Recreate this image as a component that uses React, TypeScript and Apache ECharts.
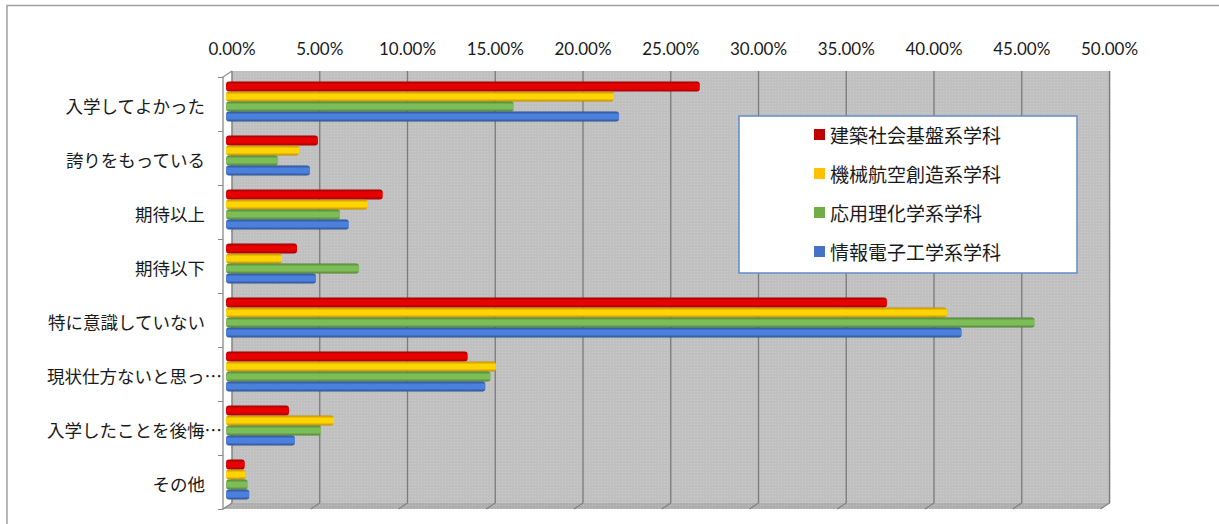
import React, { useEffect, useRef } from "react";
import * as echarts from "echarts";

const categories = [
  "入学してよかった",
  "誇りをもっている",
  "期待以上",
  "期待以下",
  "特に意識していない",
  "現状仕方ないと思っ…",
  "入学したことを後悔…",
  "その他",
];
const civil = [27.0, 5.24, 8.93, 4.05, 37.66, 13.77, 3.59, 1.07];
const mech = [22.1, 4.16, 8.07, 3.19, 41.08, 15.38, 6.15, 1.1];
const chem = [16.4, 2.96, 6.5, 7.58, 46.08, 15.08, 5.41, 1.24];
const info = [22.4, 4.79, 7.0, 5.13, 41.92, 14.78, 3.93, 1.33];
const seriesNames = ["建築社会基盤系学科", "機械航空創造系学科", "応用理化学系学科", "情報電子工学系学科"];
const seriesColors = ["#c00000", "#ffc000", "#70ad47", "#4472c4"];
const tickValues = [0, 5, 10, 15, 20, 25, 30, 35, 40, 45, 50];

const gradient = (edge: string, mid: string) => ({
  type: "linear",
  x: 0,
  y: 0,
  x2: 0,
  y2: 1,
  colorStops: [
    { offset: 0, color: edge },
    { offset: 0.3, color: mid },
    { offset: 0.7, color: mid },
    { offset: 1, color: edge },
  ],
});
const barFills = [
  gradient("#a00000", "#e60000"),
  gradient("#c08c00", "#ffd400"),
  gradient("#4f8434", "#7dbd57"),
  gradient("#2c5090", "#4b80dc"),
];

const CJK = '"Noto Sans CJK JP", "Noto Sans", sans-serif';
const plotW = 877.5;
const plotH = 432;

function dither(base: string, light: string) {
  const c = document.createElement("canvas");
  c.width = 3;
  c.height = 3;
  const g = c.getContext("2d")!;
  g.fillStyle = base;
  g.fillRect(0, 0, 3, 3);
  g.fillStyle = light;
  g.fillRect(1, 1, 1, 1);
  return { image: c, repeat: "repeat" };
}

export default function App() {
  const ref = useRef<HTMLDivElement>(null);
  useEffect(() => {
    document.body.style.margin = "0";
    const chart = echarts.init(ref.current!, undefined, { renderer: "svg" });
    const values = [civil, mech, chem, info];
    const depthX = 9;
    const depthY = 6;
    const wallFill = dither("#c0c0c0", "#cdcdcd");
    const floorFill = dither("#aeaeae", "#c2c2c2");
    chart.setOption({
      animation: false,
      backgroundColor: "#ffffff",
      graphic: [
        {
          type: "polyline",
          shape: { points: [[7, 524], [7, 5.5], [1219, 5.5]] },
          style: { stroke: "#a0a0a0", lineWidth: 1.5, fill: "none" },
          silent: true,
        },
      ],
      grid: [
        { left: 232, top: 71, width: plotW, height: plotH, show: true, backgroundColor: "#c1c1c1", borderWidth: 0 },
        { left: 223, top: 77, width: plotW, height: plotH },
        { left: 226, top: 74.5, width: plotW, height: plotH },
      ],
      xAxis: [
        {
          gridIndex: 0,
          type: "value",
          position: "top",
          min: 0,
          max: 50,
          interval: 5,
          axisLine: { show: true, lineStyle: { color: "#9a9a9a", width: 1.5 } },
          axisTick: { show: true, length: 5, lineStyle: { color: "#8a8a8a" } },
          axisLabel: {
            show: true,
            margin: 14,
            fontFamily: "Lato, sans-serif",
            fontSize: 17,
            color: "#1a1a1a",
            formatter: (v: number) => v.toFixed(2) + "%",
          },
          splitLine: { show: true, lineStyle: { color: "#7a7a7a", width: 1.3 } },
        },
        { gridIndex: 1, type: "value", min: 0, max: 50, interval: 5, show: false },
        { gridIndex: 2, type: "value", min: 0, max: 50, interval: 5, show: false },
      ],
      yAxis: [
        { gridIndex: 0, type: "value", min: 0, max: 1, show: false },
        {
          gridIndex: 1,
          type: "category",
          inverse: true,
          data: categories,
          axisLine: { show: true, lineStyle: { color: "#9a9a9a", width: 1.5 } },
          axisTick: { show: true, length: 5, lineStyle: { color: "#8a8a8a" } },
          axisLabel: {
            interval: 0,
            margin: 1,
            fontFamily: CJK,
            fontSize: 17.5,
            color: "#1a1a1a",
            formatter: (v: string) => (v.endsWith("…") ? `{e|${v}}` : `{p|${v}}`),
            rich: {
              p: { fontFamily: CJK, fontSize: 17.5, color: "#1a1a1a", padding: [2, 17, 0, 0] },
              e: { fontFamily: CJK, fontSize: 17.5, color: "#1a1a1a", padding: [2, 0, 0, 0] },
            },
          },
        },
        { gridIndex: 2, type: "category", inverse: true, data: categories, show: false },
      ],
      legend: {
        orient: "vertical",
        left: 739,
        top: 116,
        padding: [9, 76, 12, 75],
        itemWidth: 11,
        itemHeight: 11,
        itemGap: 20,
        backgroundColor: "#ffffff",
        borderColor: "#5f8fc8",
        borderWidth: 1.5,
        icon: "rect",
        textStyle: { fontFamily: CJK, fontSize: 19, color: "#1a1a1a" },
        data: seriesNames.map((name, i) => ({ name, itemStyle: { color: seriesColors[i] } })),
      },
      series: [
        {
          type: "custom",
          xAxisIndex: 1,
          yAxisIndex: 1,
          z: 1,
          clip: false,
          silent: true,
          encode: { x: 0 },
          data: tickValues.map((v) => [v]),
          renderItem: (params: any, api: any) => {
            const cs = params.coordSys;
            const x = api.coord([api.value(0), 0])[0];
            const yb = cs.y + cs.height;
            const children: any[] = [];
            if (params.dataIndex === 0) {
              children.push({
                type: "rect",
                shape: { x: cs.x + depthX, y: cs.y - depthY, width: cs.width, height: cs.height },
                style: { fill: wallFill },
              });
              children.push({
                type: "polygon",
                shape: {
                  points: [
                    [cs.x, yb],
                    [cs.x + depthX, yb - depthY],
                    [cs.x + cs.width + depthX, yb - depthY],
                    [cs.x + cs.width, yb],
                  ],
                },
                style: { fill: floorFill },
              });
              children.push({
                type: "line",
                shape: { x1: cs.x, y1: cs.y, x2: cs.x + depthX, y2: cs.y - depthY },
                style: { stroke: "#9a9a9a", lineWidth: 1.5 },
              });
            }
            children.push({
              type: "line",
              shape: { x1: x + depthX, y1: cs.y - depthY, x2: x + depthX, y2: yb - depthY },
              style: { stroke: "#7a7a7a", lineWidth: 1.3 },
            });
            children.push({
              type: "line",
              shape: { x1: x, y1: yb, x2: x + depthX, y2: yb - depthY },
              style: { stroke: "#808080", lineWidth: 1.2 },
            });
            return { type: "group", children };
          },
        },
        ...seriesNames.map((name, i) => ({
          name,
          type: "bar",
          xAxisIndex: 2,
          yAxisIndex: 2,
          z: 3,
          barWidth: 10,
          barGap: 0,
          data: values[i],
          itemStyle: { color: barFills[i], borderRadius: 3 },
        })),
      ],
    });
    return () => chart.dispose();
  }, []);
  return <div ref={ref} style={{ width: 1219, height: 524, overflow: "hidden" }} />;
}
